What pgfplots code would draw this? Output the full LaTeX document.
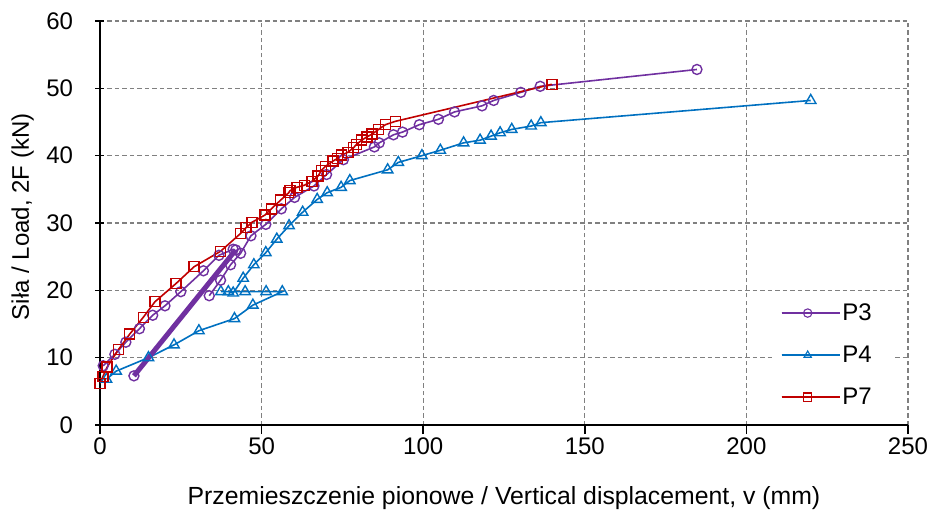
\documentclass[border=0pt]{standalone}
\usepackage{pgfplots}
\pgfplotsset{compat=1.18}
\usepackage{fontspec}
\setmainfont{Liberation Sans}
\definecolor{cPthree}{HTML}{7030A0}
\definecolor{cPfour}{HTML}{0070C0}
\definecolor{cPseven}{HTML}{C00000}
\newcommand{\bigf}{\fontsize{24bp}{28bp}\selectfont}
\begin{document}
\begin{tikzpicture}
\useasboundingbox (-100bp,-89bp) rectangle (833bp,425bp);
\begin{axis}[
  scale only axis, width=808bp, height=404bp,
  xmin=0, xmax=250, ymin=0, ymax=60,
  axis x line*=bottom, axis y line*=left,
  axis line style={line width=2.6bp, black},
  xtick={0,50,...,250}, ytick={0,10,...,60},
  grid=major,
  major grid style={color=black!50, dash pattern=on 4.5bp off 3bp, line width=1.3bp},
  xtick align=outside, ytick align=center,
  major tick length=9bp,
  tick style={black, line width=1.5bp},
  /pgf/number format/assume math mode=true,
  tick label style={font=\bigf},
  yticklabel style={xshift=-19bp},
  label style={font=\bigf},
  xlabel={Przemieszczenie pionowe / Vertical displacement, v (mm)},
  ylabel={Siła / Load, 2F (kN)},
  xlabel style={font=\fontsize{24.8bp}{28bp}\selectfont, at={(axis description cs:0.5,-0.198)}, anchor=base},
  ylabel style={at={(axis description cs:-0.088,0.515)}, anchor=base},
  legend style={at={(0.835,0.315)}, anchor=north west, draw=none, fill=white,
    font=\bigf, row sep=20bp, inner xsep=6bp, inner ysep=4bp},
  legend cell align=left,
  legend image code/.code={\path (0bp,0bp) -- (58bp,0bp);\draw[#1,line width=1.4bp] (0bp,0bp) -- (52bp,0bp);\draw[#1,mark size=4.2bp,mark options={solid,fill=white,line width=1.1bp}] plot coordinates {(26bp,0bp)};},
]
% P3
\addplot[cPthree, line width=1.6bp, mark=o, mark size=5bp, mark options={solid, fill=white, line width=1.4bp}] coordinates {
(1.0,8.8)(4.6,10.5)(8.0,12.3)(12.2,14.3)(16.3,16.3)(20.1,17.7)(25.0,19.8)(32.0,22.9)(36.8,25.2)(41.2,26.1)
};
\addlegendentry{\makebox[44bp][l]{P3}}
% P4
\addplot[cPfour, line width=1.6bp, mark=triangle, mark size=6bp, mark options={solid, fill=white, line width=1.4bp}] coordinates {
(2.0,6.8)(5.0,8.0)(15.0,10.0)(22.9,11.9)(30.6,14.0)(41.6,15.8)(47.3,17.8)(56.4,19.8)(51.4,19.8)(44.9,19.8)(37.4,19.8)(39.7,19.8)(41.2,19.6)(44.3,21.8)(47.6,23.8)(51.3,25.6)(54.7,27.6)(58.5,29.6)(62.7,31.6)(67.2,33.5)(70.3,34.5)(74.6,35.3)(77.3,36.3)(89.0,37.9)(92.3,39.0)(99.6,40.0)(105.3,40.8)(112.5,41.9)(117.6,42.3)(121.0,42.9)(123.8,43.4)(127.4,43.9)(133.4,44.4)(136.4,44.9)(219.9,48.2)
};
\addlegendentry{\makebox[44bp][l]{P4}}
% P3 cycles and continuation
\addplot[cPthree, line width=5bp, mark=o, mark size=5bp, mark options={solid, fill=white, line width=1.4bp}, forget plot] coordinates {
(10.5,7.3)(42.0,26.0)
};
\addplot[cPthree, line width=1.6bp, mark=o, mark size=5bp, mark options={solid, fill=white, line width=1.4bp}, forget plot] coordinates {
(33.8,19.2)(37.3,21.5)(40.4,23.8)(43.5,25.5)(46.7,28.1)(51.3,29.8)(56.1,32.1)(60.2,33.8)(66.2,35.5)(70.1,37.2)(75.3,39.4)(84.9,41.3)(86.4,41.9)(90.8,43.1)(93.6,43.5)(98.8,44.6)(104.7,45.4)(109.7,46.5)(118.2,47.4)(121.8,48.2)(130.2,49.4)(136.2,50.3)(184.7,52.8)
};
% P7
\addplot[cPseven, line width=1.6bp, mark=square, mark size=5bp, mark options={solid, fill=white, line width=1.4bp}] coordinates {
(0,6.2)(0.9,7.2)(2.2,8.6)(5.7,11.2)(9.2,13.5)(13.4,16.0)(17.0,18.3)(23.5,21.0)(29.1,23.5)(37.3,25.8)(43.4,28.4)(45.2,29.3)(47.0,30.1)(51.1,31.2)(53.0,32.1)(55.9,33.4)(58.4,34.5)(58.8,34.8)(60.9,35.3)(63.2,35.6)(65.6,36.2)(67.5,37.0)(68.5,37.8)(69.7,38.4)(72.1,39.2)(73.5,39.6)(74.8,40.1)(76.7,40.5)(78.5,41.2)(79.4,41.7)(81.0,42.3)(82.6,42.8)(84.2,43.2)(86.2,43.9)(88.3,44.6)(91.4,45.1)(139.8,50.6)
};
\addlegendentry{\makebox[44bp][l]{P7}}
\end{axis}
\end{tikzpicture}
\end{document}
